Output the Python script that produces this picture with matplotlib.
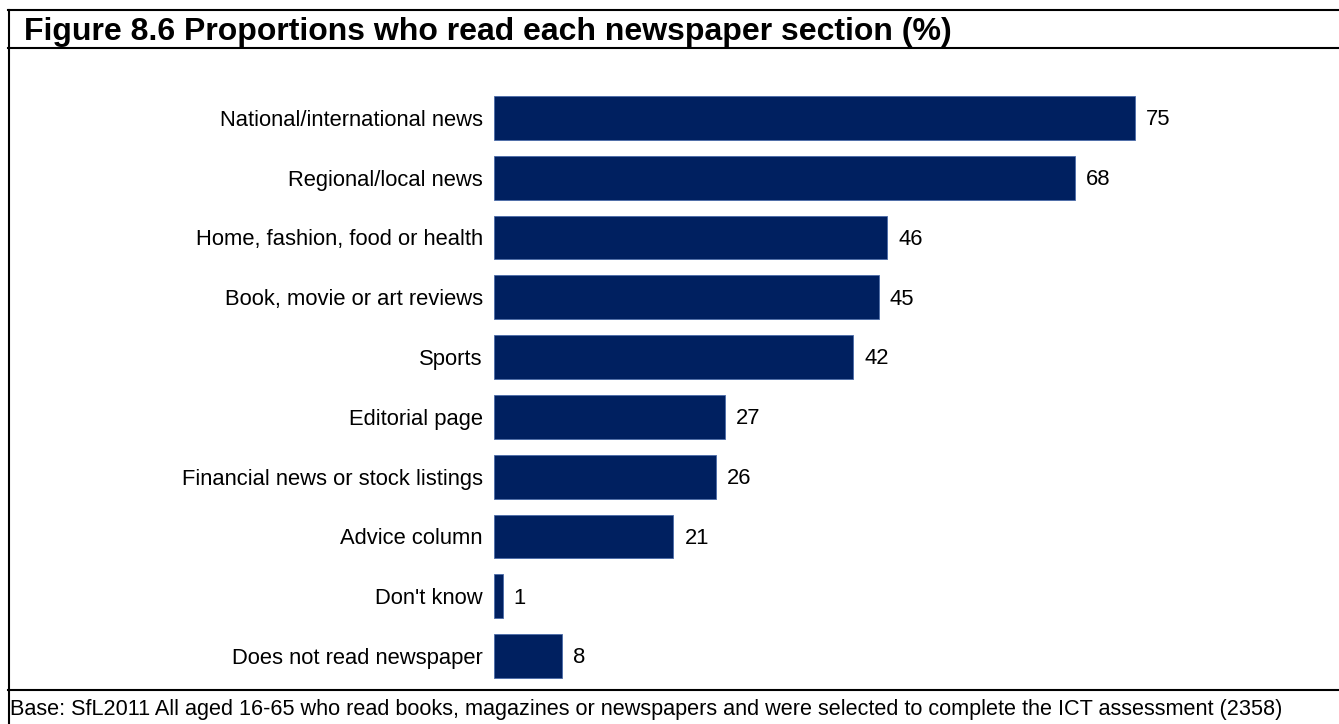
import matplotlib
matplotlib.use("Agg")
import matplotlib.pyplot as plt
from matplotlib.lines import Line2D

categories = ["National/international news", "Regional/local news", "Home, fashion, food or health",
              "Book, movie or art reviews", "Sports", "Editorial page",
              "Financial news or stock listings", "Advice column", "Don't know",
              "Does not read newspaper"]
values = [75, 68, 46, 45, 42, 27, 26, 21, 1, 8]
title = "Figure 8.6 Proportions who read each newspaper section (%)"
footer = "Base: SfL2011 All aged 16-65 who read books, magazines or newspapers and were selected to complete the ICT assessment (2358)"

plt.rcParams['font.family'] = ['Liberation Sans', 'DejaVu Sans']
W, H = 1339, 724
fig = plt.figure(figsize=(W / 100, H / 100), dpi=100)

ax_left, ax_right = 494, 1339
ax_top, ax_bot = 88, 686
ax = fig.add_axes([ax_left / W, 1 - ax_bot / H, (ax_right - ax_left) / W, (ax_bot - ax_top) / H])
px_per_unit = (1135 - 494) / 75
ax.set_xlim(0, (ax_right - ax_left) / px_per_unit)
ax.set_ylim(len(values) - 0.5, -0.5)
ypos = list(range(len(values)))
ax.barh(ypos, values, height=0.73, color="#002060", edgecolor="#4a6aa8", linewidth=0.6)
for y, v in zip(ypos, values):
    ax.text(v + 1.3, y + 0.03, str(v), va="center", ha="left", fontsize=15.8, color="black")
ax.set_yticks(ypos)
ax.set_yticklabels(categories, fontsize=15.8)
ax.tick_params(axis="y", length=0, pad=8)
ax.set_xticks([])
for s in ax.spines.values():
    s.set_visible(False)

lw = 1.5
def hline(y, x0=8, x1=W):
    fig.add_artist(Line2D([x0 / W, x1 / W], [1 - y / H, 1 - y / H], color="black", lw=lw))
def vline(x, y0, y1):
    fig.add_artist(Line2D([x / W, x / W], [1 - y0 / H, 1 - y1 / H], color="black", lw=lw))

hline(10)
hline(48)
hline(690)
vline(8.5, 10, H)

fig.text(24 / W, 1 - 40 / H, title, fontsize=23, fontweight="bold", ha="left", va="baseline")
fig.text(10 / W, 1 - 715 / H, footer, fontsize=15.6, ha="left", va="baseline")

fig.savefig("out.png", dpi=100)
